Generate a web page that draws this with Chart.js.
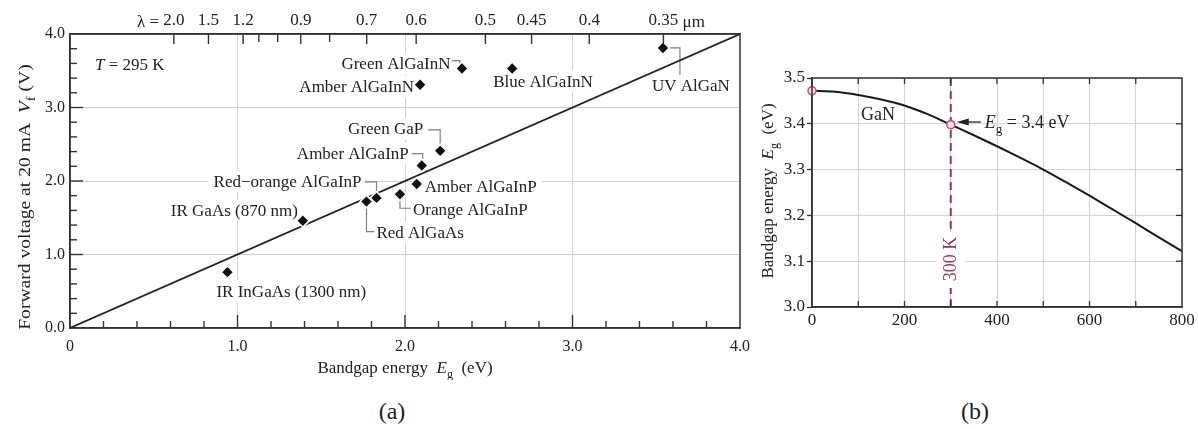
<!DOCTYPE html>
<html>
<head>
<meta charset="utf-8">
<script src="https://cdn.jsdelivr.net/npm/chart.js@4.4.1/dist/chart.umd.min.js"></script>
<style>
  body { margin: 0; width: 1198px; height: 429px; background: #fff; position: relative; overflow: hidden; }
  #ca { position: absolute; left: 0; top: 0; }
  #cb { position: absolute; left: 755px; top: 0; }
  .cap { position: absolute; top: 397px; width: 100px; text-align: center; font: 24px 'Liberation Serif', serif; color: #222; line-height: 28px; }
</style>
</head>
<body>
<canvas id="ca" width="760" height="380"></canvas>
<canvas id="cb" width="443" height="380"></canvas>
<div class="cap" style="left:342px">(a)</div>
<div class="cap" style="left:925px">(b)</div>
<script>
// (a) forward voltage vs bandgap energy
const ledNames = ['IR InGaAs (1300 nm)', 'IR GaAs (870 nm)', 'Red AlGaAs', 'Red\u2212orange AlGaInP',
  'Orange AlGaInP', 'Amber AlGaInP', 'Amber AlGaInP', 'Green GaP', 'Amber AlGaInN',
  'Green AlGaInN', 'Blue AlGaInN', 'UV AlGaN'];
const ledEg = [0.94, 1.39, 1.77, 1.83, 1.97, 2.07, 2.10, 2.21, 2.09, 2.34, 2.64, 3.54];
const ledVf = [0.76, 1.46, 1.72, 1.77, 1.82, 1.96, 2.21, 2.41, 3.31, 3.53, 3.53, 3.81];
const refEg = [0, 4];
const refVf = [0, 4];
const lambdaTicks = [2.0, 1.5, 1.2, 1.1, 1.0, 0.9, 0.8, 0.7, 0.6, 0.5, 0.45, 0.4, 0.35];
const lambdaLabels = ['2.0', '1.5', '1.2', '', '', '0.9', '', '0.7', '0.6', '0.5', '0.45', '0.4', '0.35'];

// (b) GaN bandgap vs temperature
const ganT = [0, 50, 100, 150, 200, 250, 300, 350, 400, 450, 500, 550, 600, 650, 700, 750, 800];
const ganEg = [3.472, 3.470, 3.463, 3.453, 3.440, 3.421, 3.398, 3.375, 3.351, 3.326, 3.300, 3.272, 3.243, 3.213, 3.183, 3.152, 3.122];
const markT = [0, 300];
const markEg = [3.472, 3.398];

// label placement (px offsets from the marker)
const labelPos = [
  { dx: -11, dy: 19, a: 'l' }, { dx: -5, dy: -10, a: 'r' }, { dx: 10, dy: 31, a: 'l' },
  { dx: -15, dy: -16.5, a: 'r' }, { dx: 13, dy: 15, a: 'l' }, { dx: 8, dy: 3, a: 'l' },
  { dx: -13, dy: -12, a: 'r' }, { dx: -17, dy: -22, a: 'r' }, { dx: -6, dy: 2, a: 'r' },
  { dx: -11.5, dy: -5, a: 'r' }, { dx: -19, dy: 13, a: 'l' }, { dx: -11, dy: 38, a: 'l' }
];
const leaders = [null, null, [[0, 5], [0, 30], [8, 30]], [[-12, -16], [0, -16], [0, -6]],
  [[0, 5], [0, 14], [11, 14]], null, [[-10, -12], [1, -12], [1, -6]], [[-12, -21], [0, -21], [0, -6]],
  null, [[-10, -8], [-2, -8], [-2, -4]], null, [[6, 0], [17, 0], [17, 27]]];

const SERIF = "'Liberation Serif', serif";
const INK = '#222';
Chart.defaults.font.family = SERIF;
Chart.defaults.color = INK;

function fnt(size, style) { return (style || '') + ' ' + size + 'px ' + SERIF; }

function segFont(s, size) {
  if (s[1] === 'sub') return fnt(Math.round(size * 0.72));
  return fnt(size, s[1] === 'i' ? 'italic' : '');
}

// mixed italic / subscript text, sx stretches along the baseline
function drawRich(ctx, segs, x, y, size, align, sx) {
  sx = sx || 1;
  let w = 0;
  segs.forEach(s => { ctx.font = segFont(s, size); w += ctx.measureText(s[0]).width; });
  w *= sx;
  const start = align === 'center' ? x - w / 2 : align === 'right' ? x - w : x;
  ctx.save();
  ctx.translate(start, y);
  ctx.scale(sx, 1);
  ctx.textAlign = 'left';
  ctx.textBaseline = 'alphabetic';
  let cx = 0;
  segs.forEach(s => {
    ctx.font = segFont(s, size);
    ctx.fillText(s[0], cx, s[1] === 'sub' ? size * 0.28 : 0);
    cx += ctx.measureText(s[0]).width;
  });
  ctx.restore();
}

function line(ctx, x1, y1, x2, y2) {
  ctx.beginPath(); ctx.moveTo(x1, y1); ctx.lineTo(x2, y2); ctx.stroke();
}

function ledPt(chart, i) {
  return { x: chart.scales.x.getPixelForValue(ledEg[i]), y: chart.scales.y.getPixelForValue(ledVf[i]) };
}

function labelBox(chart, i) {
  const ctx = chart.ctx;
  ctx.font = fnt(17);
  const w = ctx.measureText(ledNames[i]).width;
  const p = ledPt(chart, i), o = labelPos[i];
  const x = o.a === 'l' ? p.x + o.dx : p.x + o.dx - w;
  return { x, y: p.y + o.dy, w };
}

const gridA = c => (c.tick && c.tick.value > 0 && c.tick.value < 4) ? '#cfcfcf' : 'rgba(0,0,0,0)';

const annotA = {
  id: 'annotA',
  beforeDatasetsDraw(chart) {
    const ctx = chart.ctx;
    ctx.save();
    ctx.fillStyle = '#fff';
    ledNames.forEach((n, i) => {
      const b = labelBox(chart, i);
      ctx.fillRect(b.x - 5, b.y - 11, b.w + 10, 22);
    });
    ctx.strokeStyle = '#808080';
    ctx.lineWidth = 1.2;
    leaders.forEach((L, i) => {
      if (!L) return;
      const p = ledPt(chart, i);
      ctx.beginPath();
      L.forEach(([dx, dy], k) => k ? ctx.lineTo(p.x + dx, p.y + dy) : ctx.moveTo(p.x + dx, p.y + dy));
      ctx.stroke();
    });
    ctx.restore();
  },
  afterDatasetsDraw(chart) {
    const ctx = chart.ctx;
    ctx.save();
    ctx.fillStyle = INK;
    ctx.textBaseline = 'middle';
    ctx.textAlign = 'left';
    ledNames.forEach((n, i) => {
      const b = labelBox(chart, i);
      ctx.font = fnt(17);
      ctx.fillText(n, b.x, b.y + 1);
    });
    drawRich(ctx, [['T', 'i'], [' = 295 K', '']], chart.chartArea.left + 25, 70, 17, 'left');
    ctx.restore();
  },
  afterDraw(chart) {
    const ctx = chart.ctx, s = chart.scales, a = chart.chartArea;
    ctx.save();
    ctx.strokeStyle = '#333';
    ctx.lineWidth = 1.5;
    ctx.strokeRect(a.left, a.top, a.right - a.left, a.bottom - a.top);
    ctx.lineWidth = 1.4;
    for (let k = 1; k < 20; k++) {
      const v = k * 0.2, len = k % 5 === 0 ? 13 : 7;
      const x = s.x.getPixelForValue(v);
      line(ctx, x, a.bottom, x, a.bottom - len);
      const y = s.y.getPixelForValue(v);
      line(ctx, a.left, y, a.left + len, y);
    }
    lambdaTicks.forEach((l, i) => {
      const x = s.x2.getPixelForValue(1.24 / l);
      line(ctx, x, a.top, x, a.top + (lambdaLabels[i] ? 10 : 8));
    });
    // wavelength axis extras
    ctx.fillStyle = INK;
    ctx.font = fnt(17);
    ctx.textBaseline = 'bottom';
    const first = lambdaLabels[0], last = lambdaLabels[lambdaLabels.length - 1];
    const x0 = s.x2.getPixelForValue(1.24 / lambdaTicks[0]) - ctx.measureText(first).width / 2;
    ctx.textAlign = 'right';
    ctx.fillText('\u03bb = ', x0, a.top - 3);
    const x1 = s.x2.getPixelForValue(1.24 / lambdaTicks[lambdaTicks.length - 1]) + ctx.measureText(last).width / 2;
    ctx.textAlign = 'left';
    ctx.fillText(' \u03bcm', x1, a.top - 3);
    // axis titles
    drawRich(ctx, [['Bandgap energy  ', ''], ['E', 'i'], ['g', 'sub'], ['  (eV)', '']], (a.left + a.right) / 2, 373, 17, 'center');
    ctx.translate(30, 197);
    ctx.rotate(-Math.PI / 2);
    drawRich(ctx, [['Forward voltage at 20 mA  ', ''], ['V', 'i'], ['f', 'sub'], [' (V)', '']], 0, 0, 17.5, 'center', 1.12);
    ctx.restore();
  }
};

new Chart(document.getElementById('ca'), {
  type: 'scatter',
  data: {
    datasets: [
      {
        data: ledEg.map((e, i) => ({ x: e, y: ledVf[i] })),
        pointStyle: 'rectRot', pointRadius: 5.2, pointBackgroundColor: '#111', pointBorderWidth: 0
      },
      {
        data: ledEg.map((e, i) => ({ x: e, y: ledVf[i] })),
        pointStyle: 'rectRot', pointRadius: 7.5, pointBackgroundColor: '#fff', pointBorderWidth: 0
      },
      {
        data: refEg.map((e, i) => ({ x: e, y: refVf[i] })),
        showLine: true, borderColor: '#222', borderWidth: 1.7, pointRadius: 0
      }
    ]
  },
  options: {
    responsive: false,
    animation: false,
    layout: { padding: { right: 20 } },
    plugins: { legend: { display: false }, tooltip: { enabled: false } },
    scales: {
      x: {
        type: 'linear', position: 'bottom', min: 0, max: 4,
        ticks: { stepSize: 1, padding: 9, font: { size: 16 }, color: INK, callback: v => v === 0 ? '0' : v.toFixed(1) },
        grid: { color: gridA, drawTicks: false },
        border: { color: '#333', width: 1.5 },
        afterFit: sc => { sc.height = 52; }
      },
      x2: {
        type: 'linear', position: 'top', min: 0, max: 4,
        afterBuildTicks: sc => { sc.ticks = lambdaTicks.map(l => ({ value: 1.24 / l })); },
        ticks: { autoSkip: false, maxRotation: 0, padding: 3, font: { size: 17 }, color: INK, callback: (v, i) => lambdaLabels[i] },
        grid: { display: false, drawTicks: false },
        border: { color: '#333', width: 1.5 },
        afterFit: sc => { sc.height = 34; }
      },
      y: {
        type: 'linear', position: 'left', min: 0, max: 4,
        ticks: { stepSize: 1, padding: 5, font: { size: 16 }, color: INK, callback: v => v.toFixed(1) },
        grid: { color: gridA, drawTicks: false },
        border: { color: '#333', width: 1.5 },
        afterFit: sc => { sc.width = 70; }
      }
    }
  },
  plugins: [annotA]
});

const MAROON = '#9c3553';

const annotB = {
  id: 'annotB',
  afterDatasetsDraw(chart) {
    const ctx = chart.ctx, s = chart.scales;
    ctx.save();
    const xm = s.x.getPixelForValue(markT[1]);
    ctx.fillStyle = '#fff';
    ctx.fillRect(xm - 14, 232, 28, 56);
    ctx.translate(xm, 259);
    ctx.rotate(-Math.PI / 2);
    ctx.fillStyle = MAROON;
    ctx.font = fnt(18);
    ctx.textAlign = 'center';
    ctx.textBaseline = 'middle';
    ctx.fillText('300 K', 0, 1);
    ctx.restore();
  },
  afterDraw(chart) {
    const ctx = chart.ctx, s = chart.scales, a = chart.chartArea;
    ctx.save();
    ctx.strokeStyle = '#333';
    ctx.lineWidth = 1.5;
    ctx.strokeRect(a.left, a.top, a.right - a.left, a.bottom - a.top);
    ctx.lineWidth = 1.3;
    for (let t = 100; t < 800; t += 100) {
      const x = s.x.getPixelForValue(t);
      line(ctx, x, a.top, x, a.top + 6);
      line(ctx, x, a.bottom, x, a.bottom - 6);
    }
    for (let k = 1; k < 5; k++) {
      const y = s.y.getPixelForValue(3 + k / 10);
      line(ctx, a.right, y, a.right - 6, y);
    }
    ctx.fillStyle = INK;
    ctx.font = fnt(18);
    ctx.textAlign = 'center';
    ctx.textBaseline = 'middle';
    ctx.fillText('GaN', 123, 115);
    // arrow to the 300 K point
    const px = s.x.getPixelForValue(markT[1]) + 6, py = 122;
    ctx.strokeStyle = INK;
    ctx.lineWidth = 1.3;
    line(ctx, px + 8, py, px + 24, py);
    ctx.beginPath();
    ctx.moveTo(px, py); ctx.lineTo(px + 12, py - 3.5); ctx.lineTo(px + 12, py + 3.5); ctx.closePath();
    ctx.fill();
    drawRich(ctx, [['E', 'i'], ['g', 'sub'], [' = 3.4 eV', '']], px + 28, 128, 18, 'left');
    ctx.translate(18, 191);
    ctx.rotate(-Math.PI / 2);
    drawRich(ctx, [['Bandgap energy  ', ''], ['E', 'i'], ['g', 'sub'], ['  (eV)', '']], 0, 0, 17, 'center');
    ctx.restore();
  }
};

new Chart(document.getElementById('cb'), {
  type: 'scatter',
  data: {
    datasets: [
      {
        data: markT.map((t, i) => ({ x: t, y: markEg[i] })),
        pointRadius: 4, pointBackgroundColor: '#f6dbe2', pointBorderColor: '#c24d6c', pointBorderWidth: 1.5,
        clip: false
      },
      {
        data: ganT.map((t, i) => ({ x: t, y: ganEg[i] })),
        showLine: true, borderColor: '#1a1a1a', borderWidth: 2, pointRadius: 0, cubicInterpolationMode: 'monotone'
      },
      {
        data: [{ x: markT[1], y: 3.0 }, { x: markT[1], y: 3.5 }],
        showLine: true, borderColor: MAROON, borderWidth: 2, borderDash: [8, 5], pointRadius: 0
      }
    ]
  },
  options: {
    responsive: false,
    animation: false,
    layout: { padding: { top: 78, right: 16 } },
    plugins: { legend: { display: false }, tooltip: { enabled: false } },
    scales: {
      x: {
        type: 'linear', min: 0, max: 800,
        ticks: { stepSize: 100, padding: 3, font: { size: 17 }, color: INK, maxRotation: 0, autoSkip: false, callback: v => v % 200 === 0 ? String(v) : '' },
        grid: { color: '#d4d4d4', drawTicks: false },
        border: { color: '#333', width: 1.5 },
        afterFit: sc => { sc.height = 73; }
      },
      y: {
        type: 'linear', min: 3.0, max: 3.5,
        ticks: { stepSize: 0.1, padding: 2, font: { size: 17 }, color: INK, callback: v => v.toFixed(1) },
        grid: { color: '#d4d4d4', drawTicks: true, tickLength: 5, tickColor: '#333', tickWidth: 1.3 },
        border: { color: '#333', width: 1.5 },
        afterFit: sc => { sc.width = 57; }
      }
    }
  },
  plugins: [annotB]
});
</script>
</body>
</html>
